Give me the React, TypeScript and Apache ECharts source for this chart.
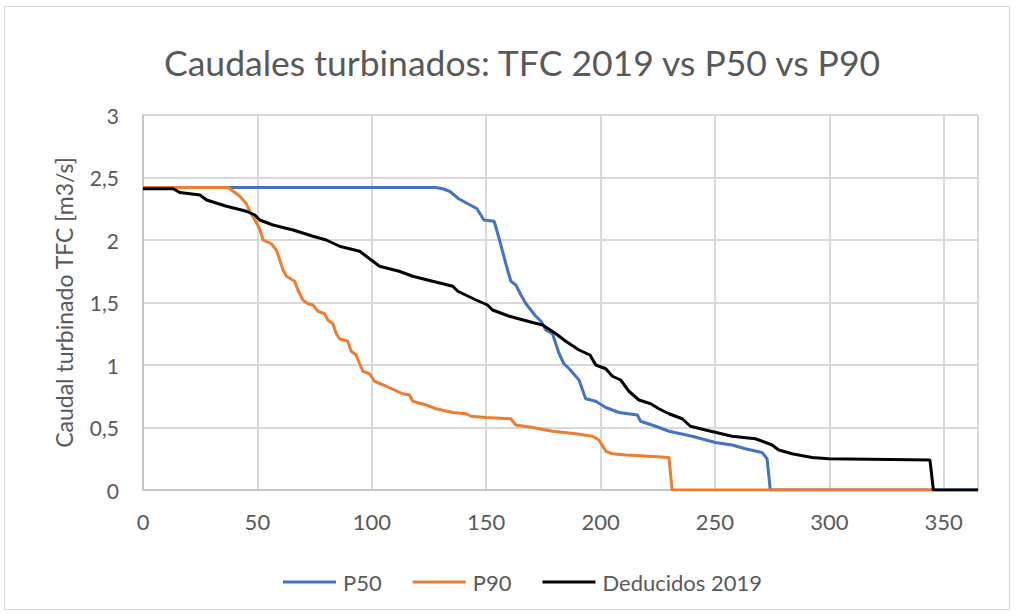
import React, { useEffect, useRef } from "react";
import * as echarts from "echarts";

const title = "Caudales turbinados: TFC 2019 vs P50 vs P90";
const yAxisName = "Caudal turbinado TFC [m3/s]";
const seriesNames = ["P50", "P90", "Deducidos 2019"];

const p50: [number, number][] = [
  [0, 2.42], [128, 2.42], [131, 2.41], [134, 2.39], [138, 2.33], [141, 2.3], [146, 2.25], [149, 2.16],
  [153.5, 2.15], [155.7, 2.01], [158.6, 1.81], [160.8, 1.67], [163, 1.64], [165.2, 1.56], [167.4, 1.49],
  [171.7, 1.39], [174, 1.35], [176.1, 1.28], [179, 1.25], [181.9, 1.09], [184, 1.01], [186.3, 0.97],
  [190.6, 0.88], [193.5, 0.73], [197.9, 0.71], [202.3, 0.66], [208.1, 0.62], [216.1, 0.6], [217.5, 0.55],
  [224.1, 0.51], [229.9, 0.47], [240, 0.43], [250.2, 0.38], [257.5, 0.36], [263.3, 0.33], [270.6, 0.3],
  [272.8, 0.25], [274.2, 0], [365, 0],
];

const p90: [number, number][] = [
  [0, 2.42], [37.2, 2.42], [39.4, 2.39], [42.3, 2.35], [45.2, 2.29], [46.7, 2.23], [48.9, 2.16], [51, 2.09],
  [52.5, 2.0], [56.1, 1.97], [58.3, 1.92], [59.8, 1.84], [61.2, 1.76], [62.7, 1.71], [66.3, 1.67], [67.7, 1.6],
  [69.9, 1.52], [72.1, 1.49], [74.3, 1.48], [76.5, 1.43], [79.4, 1.41], [80.8, 1.36], [83, 1.33], [84.5, 1.25],
  [85.9, 1.21], [89.5, 1.19], [91, 1.11], [93.2, 1.08], [94.7, 1.01], [96.1, 0.95], [99, 0.93], [101.2, 0.87],
  [106.3, 0.83], [113.5, 0.77], [116.5, 0.76], [117.9, 0.71], [123.8, 0.68], [128.1, 0.65], [135.4, 0.62],
  [141.2, 0.61], [143.4, 0.59], [150, 0.58], [160.8, 0.57], [163, 0.52], [170.3, 0.5], [179, 0.47],
  [189.2, 0.45], [196.4, 0.43], [199.3, 0.4], [202.3, 0.31], [205.2, 0.29], [211, 0.28], [221.2, 0.27],
  [229.9, 0.26], [231.3, 0], [344.5, 0],
];

const deducidos2019: [number, number][] = [
  [0, 2.41], [13.2, 2.41], [16.1, 2.38], [24.9, 2.36], [27.8, 2.32], [36.5, 2.27], [45.2, 2.23], [48.9, 2.2],
  [51, 2.16], [56.8, 2.12], [65.6, 2.08], [74.3, 2.03], [80.1, 2.0], [85.9, 1.95], [94.7, 1.91], [100.5, 1.83],
  [103.4, 1.79], [112, 1.75], [117.9, 1.71], [126.6, 1.67], [135.4, 1.63], [137.6, 1.59], [145.6, 1.52],
  [150.6, 1.48], [152.8, 1.44], [160.1, 1.39], [170.3, 1.34], [174.7, 1.32], [180.5, 1.25], [184.8, 1.19],
  [190.6, 1.12], [195.4, 1.08], [197.9, 1.0], [202.3, 0.97], [205.2, 0.91], [208.8, 0.88], [212.4, 0.79],
  [216.8, 0.72], [221.9, 0.69], [225.5, 0.65], [229.9, 0.61], [235.7, 0.57], [239.3, 0.51], [245.9, 0.48],
  [257.5, 0.43], [267.7, 0.41], [275, 0.36], [277.9, 0.32], [283.7, 0.29], [292.4, 0.26], [299.7, 0.25],
  [344, 0.24], [345.5, 0], [365, 0],
];

const colors = ["#4472C4", "#ED7D31", "#000000"];
const FONT = "Lato, 'Open Sans', sans-serif";

export default function App() {
  const ref = useRef<HTMLDivElement>(null);
  useEffect(() => {
    if (!ref.current) return;
    const chart = echarts.init(ref.current, undefined, { renderer: "svg" });
    const datasets = [p50, p90, deducidos2019];
    chart.setOption({
      animation: false,
      backgroundColor: "#ffffff",
      title: {
        text: title,
        left: 159,
        top: 39,
        textStyle: { fontFamily: FONT, fontSize: 35.5, fontWeight: "normal", color: "#595959" },
      },
      graphic: [
        {
          type: "rect",
          shape: { x: 4.5, y: 6.5, width: 1005, height: 603 },
          style: { fill: "none", stroke: "#d9d9d9", lineWidth: 1 },
          silent: true,
        },
      ],
      legend: {
        top: 566,
        left: 278,
        itemWidth: 53,
        itemHeight: 3,
        itemGap: 31,
        icon: "rect",
        textStyle: { fontFamily: FONT, fontSize: 22, color: "#595959", padding: [0, 0, 0, 2] },
        data: seriesNames,
      },
      grid: { left: 143, right: 38, top: 115, bottom: 126, containLabel: false },
      xAxis: {
        type: "value",
        min: 0,
        max: 365,
        interval: 50,
        axisLine: { show: true, lineStyle: { color: "#bfbfbf", width: 1.5 } },
        axisTick: { show: false },
        axisLabel: { fontFamily: FONT, fontSize: 22, color: "#595959", margin: 20, showMaxLabel: false },
        splitLine: { show: true, lineStyle: { color: "#d9d9d9", width: 2 } },
      },
      yAxis: {
        type: "value",
        min: 0,
        max: 3,
        interval: 0.5,
        name: yAxisName,
        nameLocation: "middle",
        nameGap: 68,
        nameTextStyle: { fontFamily: FONT, fontSize: 23, color: "#595959" },
        axisLine: { show: true, lineStyle: { color: "#bfbfbf", width: 1.5 } },
        axisTick: { show: false },
        axisLabel: {
          fontFamily: FONT,
          fontSize: 21,
          color: "#595959",
          margin: 24,
          formatter: (v: number) => String(v).replace(".", ","),
        },
        splitLine: { show: true, lineStyle: { color: "#d9d9d9", width: 2 } },
      },
      series: seriesNames.map((name, i) => ({
        name,
        type: "line",
        data: datasets[i],
        showSymbol: false,
        symbol: "none",
        color: colors[i],
        lineStyle: { color: colors[i], width: 3 },
        z: 2 + i,
      })),
    });
    return () => chart.dispose();
  }, []);
  return (
    <div
      ref={ref}
      style={{ position: "fixed", left: 0, top: 0, width: 1016, height: 616, background: "#fff" }}
    />
  );
}
